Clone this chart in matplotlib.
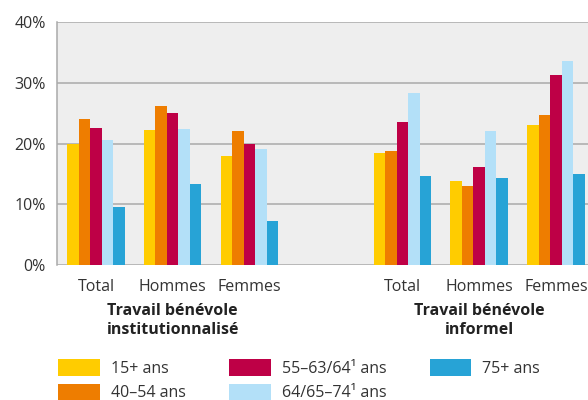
import matplotlib
matplotlib.use("Agg")
import matplotlib.pyplot as plt
import numpy as np

plt.rcParams['font.family'] = ['Open Sans', 'DejaVu Sans']

categories = ["Total", "Hommes", "Femmes", "", "Total", "Hommes", "Femmes"]
groups = ["Travail bénévole\ninstitutionnalisé", "Travail bénévole\ninformel"]
series = ["15+ ans", "40–54 ans", "55–63/64¹ ans", "64/65–74¹ ans", "75+ ans"]
colors = ["#FFCC00", "#EE7D00", "#BE0046", "#B3E0F8", "#27A3D6"]

# one list per age class, order: Total, Hommes, Femmes (institutionnalisé), gap, Total, Hommes, Femmes (informel)
v_15 = [20.0, 22.2, 17.9, np.nan, 18.5, 13.8, 23.1]
v_40_54 = [24.1, 26.1, 22.1, np.nan, 18.8, 13.0, 24.7]
v_55_64 = [22.6, 25.1, 19.9, np.nan, 23.5, 16.2, 31.3]
v_65_74 = [20.6, 22.4, 19.1, np.nan, 28.3, 22.0, 33.5]
v_75 = [9.6, 13.3, 7.2, np.nan, 14.7, 14.3, 15.0]
values = [v_15, v_40_54, v_55_64, v_65_74, v_75]

fig = plt.figure(figsize=(5.88, 4.0), dpi=100)
ax = fig.add_axes([57 / 588, 1 - 265 / 400, 1 - 57 / 588, (265 - 22) / 400])
ax.set_facecolor("#EEEEEE")

x = np.arange(len(categories))
w = 0.15
for i, (vals, c, lab) in enumerate(zip(values, colors, series)):
    ax.bar(x + (i - 2) * w, vals, width=w, color=c, label=lab, zorder=3)

ax.set_xlim(-0.51, 6.42)
ax.set_ylim(0, 40)
ax.set_yticks([0, 10, 20, 30, 40])
ax.set_yticklabels(["0%", "10%", "20%", "30%", "40%"])
ax.yaxis.grid(True, color="#AAAAAA", linewidth=1.1, zorder=1)
ax.set_axisbelow(True)
for s in ["top", "right", "bottom"]:
    ax.spines[s].set_visible(False)
ax.spines["left"].set_color("#AAAAAA")
ax.spines["left"].set_linewidth(1.1)

ax.set_xticks([0, 1, 2, 4, 5, 6])
ax.set_xticklabels([c for c in categories if c])
ax.tick_params(axis="both", length=0, labelsize=11.5, labelcolor="#333333")
ax.tick_params(axis="x", pad=10)
ax.tick_params(axis="y", pad=8)

for gx, g in zip([1, 5], groups):
    ax.text(gx, -0.228, g, transform=ax.get_xaxis_transform(), ha="center", va="center",
            fontsize=11.5, fontweight="bold", color="#222222", linespacing=1.25)

fig.legend(loc="upper left", bbox_to_anchor=(44 / 588, 1 - 345 / 400), ncol=3, frameon=False,
           fontsize=11.5, handlelength=2.6, handleheight=1.2, handletextpad=0.7,
           columnspacing=2.7, labelspacing=0.42, labelcolor="#333333")

fig.savefig("out.png", dpi=100)
